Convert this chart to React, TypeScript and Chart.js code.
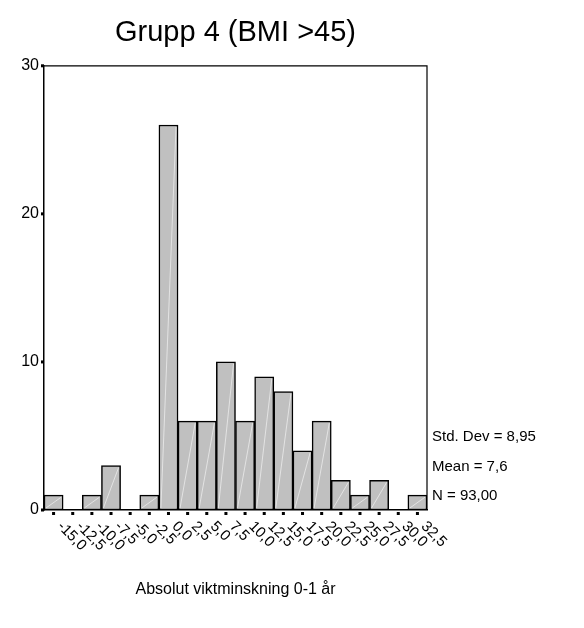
import React, { useEffect, useRef } from "react";
import { Chart, registerables } from "chart.js";

Chart.register(...registerables);

const categories = [
  "-15,0", "-12,5", "-10,0", "-7,5", "-5,0", "-2,5", "0,0", "2,5", "5,0", "7,5",
  "10,0", "12,5", "15,0", "17,5", "20,0", "22,5", "25,0", "27,5", "30,0", "32,5",
];
const counts = [1, 0, 1, 3, 0, 1, 26, 6, 6, 10, 6, 9, 8, 4, 6, 2, 1, 2, 0, 1];
const yTickValues = [0, 10, 20, 30];
const chartTitle = "Grupp 4 (BMI >45)";
const xAxisTitle = "Absolut viktminskning 0-1 år";
const statsLines = ["Std. Dev = 8,95", "Mean = 7,6", "N = 93,00"];

const FONT = 'Arial, "Liberation Sans", sans-serif';

const decorPlugin = {
  id: "spssDecor",
  afterDatasetsDraw(chart: any) {
    const { ctx } = chart;
    const meta = chart.getDatasetMeta(0);
    ctx.save();
    ctx.strokeStyle = "rgba(255,255,255,0.55)";
    ctx.lineWidth = 1;
    meta.data.forEach((bar: any) => {
      const p = bar.getProps(["x", "y", "base", "width"], true);
      if (p.base - p.y < 4) return;
      ctx.beginPath();
      ctx.moveTo(p.x - p.width / 2 + 2, p.base - 2);
      ctx.lineTo(p.x + p.width / 2 - 2, p.y + 2);
      ctx.stroke();
    });
    ctx.restore();
  },
  afterDraw(chart: any) {
    const { ctx, chartArea: a, scales } = chart;
    const xs = scales.x;
    const ys = scales.y;
    ctx.save();
    ctx.strokeStyle = "#000";
    ctx.lineWidth = 1.2;
    ctx.beginPath();
    ctx.moveTo(a.left, a.top);
    ctx.lineTo(a.right, a.top);
    ctx.lineTo(a.right, a.bottom);
    ctx.stroke();
    ctx.fillStyle = "#000";
    yTickValues.forEach((v) => {
      const y = ys.getPixelForValue(v);
      ctx.fillRect(a.left - 3, y - 1.5, 3, 3);
    });
    categories.forEach((_, i) => {
      const x = xs.getPixelForValue(i);
      ctx.fillRect(x - 1.5, a.bottom + 2, 3, 3);
    });
    ctx.font = `15px ${FONT}`;
    ctx.textAlign = "left";
    ctx.textBaseline = "middle";
    categories.forEach((lab, i) => {
      const x = xs.getPixelForValue(i);
      ctx.save();
      ctx.translate(x + 6, a.bottom + 14);
      ctx.rotate(Math.PI / 4);
      ctx.fillText(lab, 0, 0);
      ctx.restore();
    });
    ctx.font = `15px ${FONT}`;
    ctx.textBaseline = "middle";
    statsLines.forEach((s, i) => {
      ctx.fillText(s, a.right + 5, a.bottom - 73 + i * 29.5);
    });
    ctx.restore();
  },
};

export default function App() {
  const ref = useRef<HTMLCanvasElement | null>(null);
  useEffect(() => {
    if (!ref.current) return;
    const chart = new Chart(ref.current, {
      type: "bar",
      data: {
        labels: categories,
        datasets: [
          {
            data: counts,
            backgroundColor: "#c0c0c0",
            borderColor: "#000",
            borderWidth: 1.5,
            borderSkipped: false,
            barPercentage: 1,
            categoryPercentage: 1,
          },
        ],
      },
      options: {
        animation: false,
        responsive: true,
        maintainAspectRatio: false,
        layout: { padding: { left: 0, right: 157, top: 0, bottom: 0 } },
        plugins: {
          legend: { display: false },
          tooltip: { enabled: false },
          title: {
            display: true,
            text: chartTitle,
            fullSize: false,
            color: "#000",
            font: { family: FONT, size: 29, weight: "normal" },
            padding: { top: 16, bottom: 15 },
          },
        },
        scales: {
          x: {
            grid: { display: false, drawTicks: false },
            border: { display: true, color: "#000", width: 1.5 },
            ticks: { display: false },
            title: {
              display: true,
              text: xAxisTitle,
              color: "#000",
              font: { family: FONT, size: 16 },
              padding: { top: 0, bottom: 29 },
            },
            afterFit: (s: any) => {
              s.height = 118;
            },
          },
          y: {
            min: 0,
            max: 30,
            grid: { display: false, drawTicks: false },
            border: { display: true, color: "#000", width: 1.5 },
            ticks: {
              stepSize: 10,
              color: "#000",
              padding: 5,
              font: { family: FONT, size: 16 },
            },
            afterFit: (s: any) => {
              s.width = 44;
            },
          },
        },
      },
      plugins: [decorPlugin],
    });
    return () => chart.destroy();
  }, []);
  return (
    <div style={{ position: "absolute", left: 0, top: 0, width: 584, height: 628 }}>
      <canvas ref={ref} />
    </div>
  );
}
